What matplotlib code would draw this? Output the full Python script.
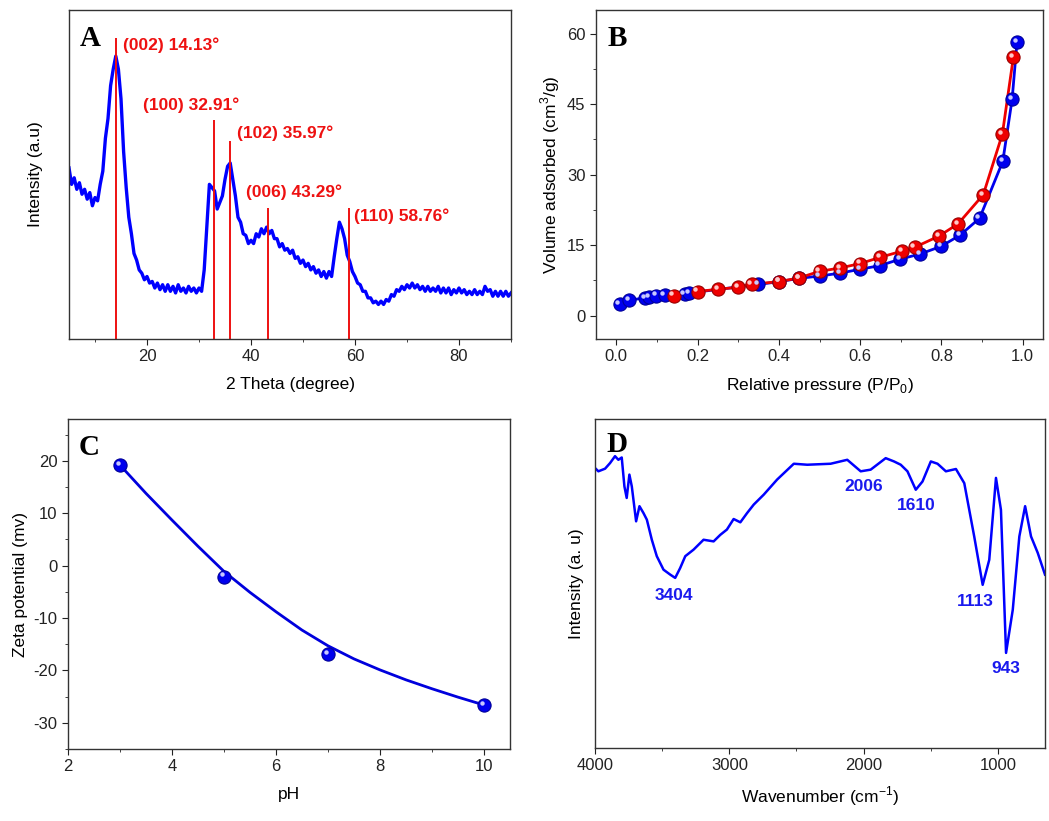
import numpy as np
import matplotlib
matplotlib.use("Agg")
import matplotlib.pyplot as plt
import matplotlib.transforms as mtransforms
from matplotlib.ticker import MultipleLocator, NullLocator

plt.rcParams["font.family"] = ["Liberation Sans", "DejaVu Sans"]
plt.rcParams["mathtext.fontset"] = "custom"
plt.rcParams["mathtext.rm"] = "Liberation Sans"
plt.rcParams["axes.unicode_minus"] = False

# ==========================
# DATA
# ==========================

# A : XRD pattern (2 theta from 5 to 90 in 0.5 steps)
xrd_intensity = [
    52, 47, 49, 45.5, 47.5, 44, 45.5, 42.5, 44.5, 40.5,
    43, 42, 47, 51, 61, 67, 77, 82, 86, 82,
    73, 57, 46, 37, 32, 26, 24, 21, 20, 18,
    19, 17, 17.5, 15.5, 17, 15, 16.5, 14.5, 16.5, 14.5,
    16, 14, 16.5, 14.5, 15.5, 14, 16, 14.5, 15.5, 14,
    15.5, 14.5, 21, 34, 47, 46, 45, 39.5, 41.5, 43.5,
    48.5, 52.5, 53.5, 48.5, 43.5, 37, 35.5, 32, 31.5, 29,
    30, 29, 32, 31, 33.5, 32, 34, 32, 33, 30.5,
    30.5, 28, 29, 27, 27.5, 26, 27, 24.5, 25, 23,
    24, 22, 23, 21, 22, 20, 21, 19, 20.5, 18.5,
    20.5, 19, 25, 30.5, 35.5, 33.5, 30.5, 25.5, 23.5, 20.5,
    19, 17, 16.5, 14.5, 14.5, 12.5, 12.5, 11, 11.5, 10.5,
    11.5, 10.5, 12, 11.5, 13.5, 13, 15, 14.5, 16, 15,
    16.5, 15.5, 17, 15.5, 16.5, 15, 16, 14.5, 16, 14.5,
    15.5, 14.5, 16, 14, 15.5, 14, 15.5, 13.5, 15, 14,
    15.5, 14, 15, 13.5, 14.5, 13.5, 15, 13.5, 14.5, 13.5,
    16, 14.5, 15, 13, 14.5, 13, 14.5, 13, 14.5, 13,
    14,
]
two_theta = np.linspace(5, 90, len(xrd_intensity))

peak_pos = [14.13, 32.91, 35.97, 43.29, 58.76]
peak_height = [91.4, 66.6, 60.3, 39.8, 39.8]
peak_labels = ["(002) 14.13°", "(100) 32.91°", "(102) 35.97°",
               "(006) 43.29°", "(110) 58.76°"]
peak_label_x = [15.4, 19.2, 37.3, 39.0, 59.8]
peak_label_y = [89.4, 71.2, 62.5, 44.5, 37.2]

# B : N2 isotherm
ads_p = [0.008, 0.032, 0.07, 0.081, 0.098, 0.119, 0.168, 0.18, 0.349, 0.4,
         0.45, 0.5, 0.55, 0.6, 0.648, 0.699, 0.748, 0.799, 0.846, 0.894,
         0.951, 0.974, 0.986]
ads_v = [2.5, 3.3, 3.7, 3.9, 4.25, 4.4, 4.6, 4.8, 6.6, 7.2,
         7.9, 8.4, 9.0, 9.85, 10.6, 12.0, 13.1, 14.7, 17.1, 20.7,
         32.8, 46.0, 58.1]
des_p = [0.141, 0.2, 0.251, 0.3, 0.333, 0.4, 0.45, 0.5, 0.55, 0.6,
         0.65, 0.703, 0.734, 0.794, 0.841, 0.903, 0.95, 0.977]
des_v = [4.25, 5.1, 5.6, 6.0, 6.65, 7.2, 8.0, 9.4, 10.1, 11.05,
         12.4, 13.7, 14.5, 16.9, 19.5, 25.7, 38.6, 54.9]

# C : zeta potential
ph = [3, 5, 7, 10]
zeta = [19.2, -2.1, -16.9, -26.6]
ph_fit = [3.0, 3.5, 4.0, 4.5, 5.0, 5.5, 6.0, 6.5, 7.0, 7.5, 8.0,
          8.5, 9.0, 9.5, 10.0]
zeta_fit = [19.2, 13.8, 8.7, 3.7, -1.1, -5.1, -8.8, -12.3, -15.3, -17.8,
            -19.9, -21.8, -23.5, -25.1, -26.6]

# D : FTIR
wavenumber = [4000, 3975, 3925, 3888, 3851, 3826, 3801, 3781, 3764, 3744,
              3726, 3694, 3669, 3639, 3614, 3577, 3540, 3490, 3440, 3403,
              3366, 3328, 3266, 3192, 3117, 3067, 3018, 2968, 2918, 2868,
              2818, 2744, 2644, 2520, 2420, 2246, 2122, 2022, 1948, 1836,
              1774, 1724, 1674, 1612, 1562, 1500, 1450, 1388, 1313, 1251,
              1177, 1114, 1065, 1015, 978, 940, 890, 841, 798, 754,
              704, 650]
transmit = [85.1, 84.1, 84.9, 86.6, 88.7, 87.6, 88.3, 79.5, 76.0, 83.1,
            79.5, 68.9, 73.5, 71.4, 69.4, 63.3, 58.3, 54.2, 52.7, 51.7,
            54.7, 58.3, 60.3, 63.3, 62.8, 64.8, 66.4, 69.6, 68.6, 71.4,
            74.0, 77.0, 81.6, 86.4, 86.1, 86.4, 87.6, 84.1, 84.6, 88.1,
            87.1, 86.1, 84.1, 78.5, 81.0, 87.1, 86.4, 84.1, 84.8, 80.5,
            64.3, 49.6, 57.2, 82.1, 72.4, 28.9, 42.0, 64.3, 73.5, 64.3,
            59.3, 52.7]
band_labels = ["3404", "2006", "1610", "1113", "943"]
band_x = [3410, 2003, 1607, 1172, 940]
band_y = [46.3, 79.5, 73.8, 44.4, 24.1]

# ==========================
# HELPERS
# ==========================

fig = plt.figure(figsize=(10.49, 8.21), dpi=100)
W, H = 1049, 821


def box(left, top, right, bottom):
    return [left / W, 1 - bottom / H, (right - left) / W, (bottom - top) / H]


def style(ax):
    for s in ax.spines.values():
        s.set_color("#333333")
        s.set_linewidth(1.0)
    ax.tick_params(which="both", direction="out", top=False, right=False,
                   labelsize=12, colors="#222222")
    ax.tick_params(which="major", length=4)
    ax.tick_params(which="minor", length=2.5)


def spheres(ax, x, y, color, edge, light):
    ax.plot(x, y, "o", ms=9.5, mfc=color, mec=edge, mew=0.8, zorder=4)
    hl = mtransforms.offset_copy(ax.transData, fig=fig, x=-2.2, y=2.2,
                                 units="dots")
    ax.plot(x, y, "o", ms=3.2, mfc=light, mec="none", transform=hl,
            zorder=5)


def letter(ax, s, x, y):
    ax.text(x, y, s, transform=ax.transAxes, ha="left", va="top",
            fontsize=21, fontweight="bold", family="Liberation Serif")

# ==========================
# PANEL A : XRD
# ==========================

axA = fig.add_axes(box(69, 10, 511, 339))
style(axA)
axA.plot(two_theta, xrd_intensity, color="#0000ff", lw=2.4)
axA.vlines(peak_pos, 0, peak_height, color="#ee1111", lw=1.4)
for lab, lx, ly in zip(peak_labels, peak_label_x, peak_label_y):
    axA.text(lx, ly, lab, color="#ee1111", fontsize=12.5,
             fontweight="bold", va="center")
axA.set_xlim(5, 90)
axA.set_ylim(0, 100)
axA.xaxis.set_major_locator(MultipleLocator(20))
axA.xaxis.set_minor_locator(MultipleLocator(10))
axA.yaxis.set_major_locator(NullLocator())
axA.set_xlabel("2 Theta (degree)", fontsize=12.5, labelpad=9)
axA.set_ylabel("Intensity (a.u)", fontsize=12.5, labelpad=19)
letter(axA, "A", 0.025, 0.955)

# ==========================
# PANEL B : ISOTHERM
# ==========================

axB = fig.add_axes(box(596, 10, 1043, 339))
style(axB)
axB.plot(ads_p, ads_v, color="#0000ee", lw=2)
axB.plot(des_p, des_v, color="#ee0000", lw=2)
spheres(axB, ads_p, ads_v, "#0000ee", "#000099", "#c8c8ff")
spheres(axB, des_p, des_v, "#ee0000", "#990000", "#ffc8c8")
axB.set_xlim(-0.05, 1.05)
axB.set_ylim(-5, 65)
axB.xaxis.set_major_locator(MultipleLocator(0.2))
axB.xaxis.set_minor_locator(MultipleLocator(0.1))
axB.yaxis.set_major_locator(MultipleLocator(15))
axB.yaxis.set_minor_locator(MultipleLocator(7.5))
axB.xaxis.set_major_formatter(plt.FuncFormatter(lambda v, p: f"{v:.1f}"))
axB.set_xlabel(r"Relative pressure (P/P$_\mathregular{0}$)", fontsize=12.5,
               labelpad=8)
axB.set_ylabel(r"Volume adsorbed (cm$^\mathregular{3}$/g)", fontsize=12.5,
               labelpad=4)
letter(axB, "B", 0.025, 0.955)

# ==========================
# PANEL C : ZETA POTENTIAL
# ==========================

axC = fig.add_axes(box(68, 419, 510, 749))
style(axC)
axC.plot(ph_fit, zeta_fit, color="#0000dd", lw=2)
spheres(axC, ph, zeta, "#0000ee", "#000099", "#c8c8ff")
axC.set_xlim(2, 10.5)
axC.set_ylim(-35, 28)
axC.xaxis.set_major_locator(MultipleLocator(2))
axC.xaxis.set_minor_locator(MultipleLocator(1))
axC.yaxis.set_major_locator(MultipleLocator(10))
axC.yaxis.set_minor_locator(MultipleLocator(5))
axC.set_xlabel("pH", fontsize=12.5, labelpad=9)
axC.set_ylabel("Zeta potential (mv)", fontsize=12.5, labelpad=4)
letter(axC, "C", 0.025, 0.955)

# ==========================
# PANEL D : FTIR
# ==========================

axD = fig.add_axes(box(595, 419, 1045, 748))
style(axD)
axD.plot(wavenumber, transmit, color="#0000ff", lw=1.8)
for lab, bx, by in zip(band_labels, band_x, band_y):
    axD.text(bx, by, lab, color="#1a1aee", fontsize=12.5,
             fontweight="bold", ha="center", va="center")
axD.set_xlim(4000, 650)
axD.set_ylim(0, 100)
axD.xaxis.set_major_locator(MultipleLocator(1000))
axD.xaxis.set_minor_locator(MultipleLocator(500))
axD.yaxis.set_major_locator(NullLocator())
axD.set_xlabel(r"Wavenumber (cm$^\mathregular{-1}$)", fontsize=12.5,
               labelpad=8)
axD.set_ylabel("Intensity (a. u)", fontsize=12.5, labelpad=8)
letter(axD, "D", 0.025, 0.965)

fig.savefig("out.png", dpi=100, facecolor="white")
